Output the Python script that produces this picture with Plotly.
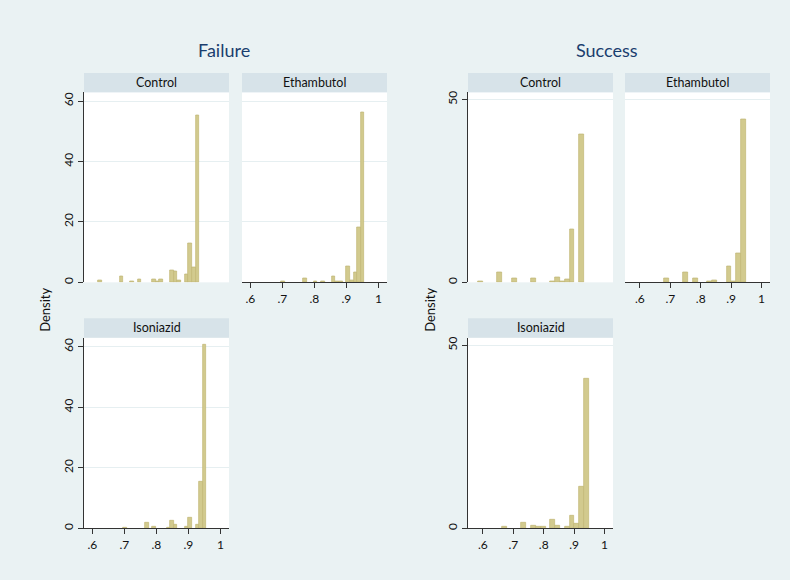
import plotly.graph_objects as go

# ---------------------------------------------------------------------------
# Histogram data (density per bin); bins are shared within each outcome group
# ---------------------------------------------------------------------------
groups = ["Failure", "Success"]
arms = ["Control", "Ethambutol", "Isoniazid"]

failure_bin_start = 0.6175
failure_bin_width = 0.011293
success_bin_start = 0.5842
success_bin_width = 0.01584

failure_control = [0.5, 0, 0, 0, 0, 0, 1.95, 0, 0, 0.45,
                   0, 0.85, 0, 0, 0, 0.85, 0.45, 0.85, 0, 0,
                   4.1, 3.8, 0.55, 0, 2.8, 12.9, 4.8, 55.4, 0, 0]
failure_ethambutol = [0, 0, 0, 0, 0, 0, 0, 0.22, 0, 0,
                      0, 0, 0, 1.2, 0, 0, 0.33, 0, 0.33, 0,
                      0, 1.86, 0.44, 0.33, 0, 5.26, 0.66, 3.3, 18.2, 56.3]
failure_isoniazid = [0, 0, 0, 0, 0, 0, 0, 0.33, 0, 0,
                     0, 0, 0, 1.9, 0, 0.44, 0, 0, 0, 0.33,
                     2.4, 1.1, 0, 0, 0.67, 3.6, 0, 1.3, 15.5, 60.7]

success_control = [0.36, 0, 0, 0, 2.6, 0, 0, 1.1, 0, 0,
                   0, 1.1, 0, 0, 0, 0.36, 1.45, 0.36, 0.8, 14.4,
                   0, 40.5, 0]
success_ethambutol = [0, 0, 0, 0, 0, 0, 1.0, 0, 0, 0,
                      2.7, 0, 1.0, 0, 0, 0.27, 0.54, 0, 0, 4.35,
                      0.27, 7.9, 44.7]
success_isoniazid = [0, 0, 0, 0, 0, 0.45, 0, 0, 0, 1.45,
                     0, 0.8, 0.54, 0.54, 0, 2.44, 0.72, 0, 0.54, 3.4,
                     1.36, 11.3, 41.0]

x_tick_values = [0.6, 0.7, 0.8, 0.9, 1.0]
x_tick_labels = [".6", ".7", ".8", ".9", "1"]
failure_y_ticks = [0, 20, 40, 60]
success_y_ticks = [0, 50]

# ---------------------------------------------------------------------------
# Styling
# ---------------------------------------------------------------------------
W, H = 790, 580
FONT = "Lato, 'Open Sans', sans-serif"
BG = "#EAF2F3"
STRIP = "#D7E3E9"
GRID = "#E6EFF1"
BAR_FILL = "rgb(210,202,142)"
BAR_LINE = "rgb(192,182,116)"
TITLE_COLOR = "#1A3E6E"


def fx(px):
    return px / W


def fy(py):
    return 1 - py / H


# panel boxes in pixels: (x0, x1, top, bottom), strip sits above top
panels = [
    # group, arm, values, start, width, x-range, y-range, box, show_x, show_y
    dict(vals=failure_control, start=failure_bin_start, width=failure_bin_width,
         xr=[0.574, 1.027], yr=[0, 62.86], yt=failure_y_ticks,
         box=(84, 229, 91, 282.3), title="Control", show_x=False, show_y=True),
    dict(vals=failure_ethambutol, start=failure_bin_start, width=failure_bin_width,
         xr=[0.574, 1.027], yr=[0, 62.86], yt=failure_y_ticks,
         box=(242, 387, 91, 282.3), title="Ethambutol", show_x=True, show_y=False),
    dict(vals=failure_isoniazid, start=failure_bin_start, width=failure_bin_width,
         xr=[0.574, 1.027], yr=[0, 63.05], yt=failure_y_ticks,
         box=(84, 229, 338, 530), title="Isoniazid", show_x=True, show_y=True),
    dict(vals=success_control, start=success_bin_start, width=success_bin_width,
         xr=[0.551, 1.028], yr=[0, 51.98], yt=success_y_ticks,
         box=(468, 613, 91, 282.3), title="Control", show_x=False, show_y=True),
    dict(vals=success_ethambutol, start=success_bin_start, width=success_bin_width,
         xr=[0.551, 1.028], yr=[0, 51.98], yt=success_y_ticks,
         box=(625, 770, 91, 282.3), title="Ethambutol", show_x=True, show_y=False),
    dict(vals=success_isoniazid, start=success_bin_start, width=success_bin_width,
         xr=[0.551, 1.028], yr=[0, 52.09], yt=success_y_ticks,
         box=(468, 613, 338, 530), title="Isoniazid", show_x=True, show_y=True),
]

fig = go.Figure()
layout = {}
shapes = []
annotations = []

for i, p in enumerate(panels, start=1):
    xa = "x" if i == 1 else f"x{i}"
    ya = "y" if i == 1 else f"y{i}"
    xkey = "xaxis" if i == 1 else f"xaxis{i}"
    ykey = "yaxis" if i == 1 else f"yaxis{i}"

    centers, heights = [], []
    for k, d in enumerate(p["vals"]):
        if d > 0:
            centers.append(p["start"] + (k + 0.5) * p["width"])
            heights.append(d)

    fig.add_trace(go.Bar(
        x=centers, y=heights, width=[p["width"]] * len(centers),
        xaxis=xa, yaxis=ya, showlegend=False, hoverinfo="x+y",
        marker=dict(color=BAR_FILL, line=dict(color=BAR_LINE, width=0.7)),
    ))

    x0, x1, top, bottom = p["box"]
    layout[xkey] = dict(
        domain=[fx(x0), fx(x1)], anchor=ya, range=p["xr"],
        tickvals=x_tick_values, ticktext=x_tick_labels,
        showgrid=False, zeroline=False,
        showline=p["show_x"], linecolor="#333333", linewidth=1,
        ticks="outside" if p["show_x"] else "", ticklen=5, tickcolor="#333333",
        showticklabels=p["show_x"],
        tickfont=dict(family=FONT, size=12, color="#111111"),
        fixedrange=True,
    )
    layout[ykey] = dict(
        domain=[fy(bottom), fy(top)], anchor=xa, range=p["yr"],
        tickvals=p["yt"], showgrid=True, gridcolor=GRID, gridwidth=1.2,
        zeroline=False,
        showline=p["show_y"], linecolor="#333333", linewidth=1,
        ticks="outside" if p["show_y"] else "", ticklen=5, tickcolor="#333333",
        showticklabels=p["show_y"], tickangle=-90,
        tickfont=dict(family=FONT, size=12, color="#111111"),
        fixedrange=True,
    )

    # facet strip with the arm name
    strip_top = top - 19.5
    shapes.append(dict(type="rect", xref="paper", yref="paper",
                       x0=fx(x0), x1=fx(x1), y0=fy(top), y1=fy(strip_top),
                       fillcolor=STRIP, line=dict(width=0), layer="below"))
    annotations.append(dict(text=p["title"], xref="paper", yref="paper",
                            x=fx((x0 + x1) / 2), y=fy((top + strip_top) / 2),
                            xanchor="center", yanchor="middle", showarrow=False,
                            font=dict(family=FONT, size=12.5, color="#111111")))

# group titles
for name, cx in zip(groups, [224, 607]):
    annotations.append(dict(text=name, xref="paper", yref="paper",
                            x=fx(cx), y=fy(48), xanchor="center", yanchor="middle",
                            showarrow=False,
                            font=dict(family=FONT, size=18, color=TITLE_COLOR)))

# shared y-axis titles
for cx in [45, 430]:
    annotations.append(dict(text="Density", xref="paper", yref="paper",
                            x=fx(cx), y=fy(310), xanchor="center", yanchor="middle",
                            textangle=-90, showarrow=False,
                            font=dict(family=FONT, size=13, color="#111111")))

fig.update_layout(
    width=W, height=H,
    margin=dict(l=0, r=0, t=0, b=0),
    paper_bgcolor=BG, plot_bgcolor="white",
    shapes=shapes, annotations=annotations,
    bargap=0,
    **layout,
)

fig.write_html("out.html")
